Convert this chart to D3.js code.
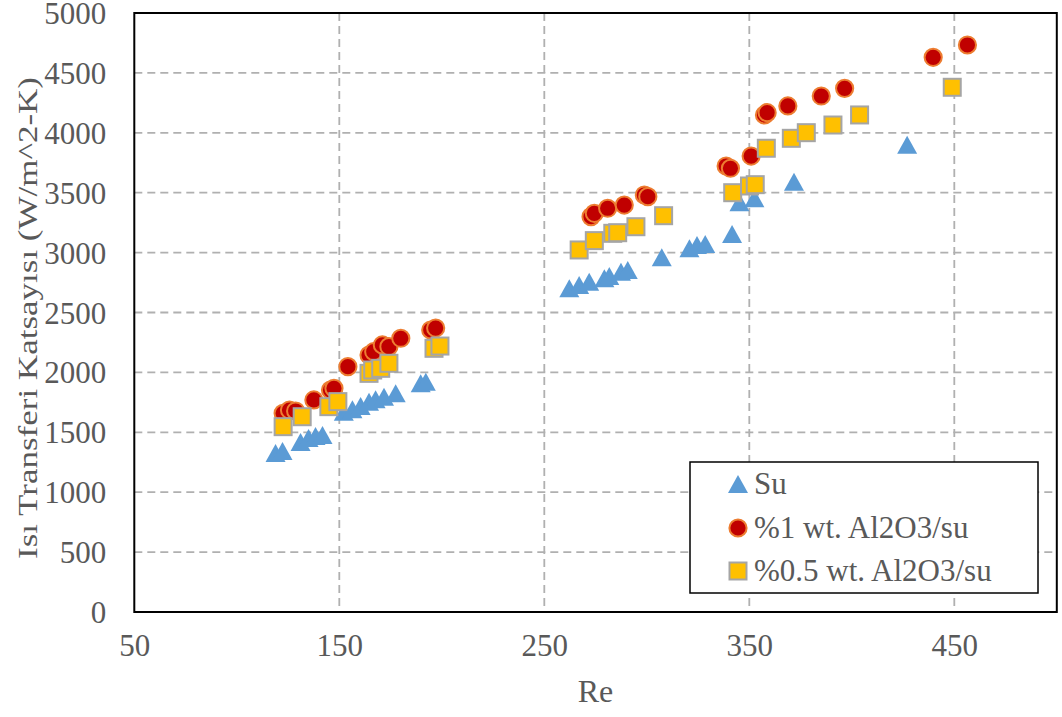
<!DOCTYPE html>
<html>
<head>
<meta charset="utf-8">
<script src="https://cdn.jsdelivr.net/npm/d3@7"></script>
<style>
  body { margin: 0; background: #fff; }
  svg { display: block; }
</style>
</head>
<body>
<svg id="chart" width="1062" height="717"></svg>
<script>
// Su (water)
const suRe = [118.9, 122.3, 131.1, 135, 138.4, 141.8, 152.2, 156.4, 160.4, 164.5, 167.7, 171.8, 177.5, 189.7, 192.2,
  262.2, 267, 271.9, 279.3, 281.7, 287.4, 290.7, 307.3, 320.8, 324.5, 328.5, 341.6, 345.2, 352.5, 371.8, 427];
const suH = [1327, 1344, 1419, 1452, 1469, 1477, 1672, 1692, 1720, 1755, 1775, 1797, 1825, 1909, 1922,
  2702, 2730, 2757, 2785, 2805, 2841, 2855, 2961, 3036, 3063, 3072, 3155, 3420, 3453, 3592, 3900];

// %1 wt. Al2O3/su
const w1Re = [122.6, 125.7, 128.7, 137.6, 145.7, 147.4, 154.2, 164.5, 166.8, 171, 174.2, 180, 194.6, 197,
  272.8, 274.4, 280.9, 289, 298.8, 300.5,
  338.7, 340.8, 350.9, 357.4, 358.7, 368.8, 385.1, 396.5, 439.7, 456.4];
const w1H = [1659, 1686, 1678, 1770, 1853, 1867, 2048, 2145, 2173, 2229, 2215, 2285, 2354, 2370,
  3300, 3328, 3370, 3397, 3481, 3467,
  3723, 3704, 3806, 4149, 4168, 4224, 4307, 4371, 4630, 4733];

// %0.5 wt. Al2O3/su
const w05Re = [122.6, 131.9, 144.9, 149.3, 164.5, 166.3, 170.2, 174.2, 196.2, 199.1,
  267, 274.4, 283.4, 285.8, 294.7, 308.2,
  341.9, 350.1, 352.9, 358.3, 370.5, 377.8, 390.8, 403.8, 449];
const w05H = [1547, 1630, 1714, 1756, 1992, 2020, 2034, 2076, 2201, 2220,
  3022, 3100, 3161, 3166, 3216, 3308,
  3500, 3556, 3567, 3871, 3954, 4001, 4065, 4149, 4380];

const xTicks = [50, 150, 250, 350, 450];
const yTicks = [0, 500, 1000, 1500, 2000, 2500, 3000, 3500, 4000, 4500, 5000];
const legendLabels = ["Su", "%1 wt. Al2O3/su", "%0.5 wt. Al2O3/su"];

const textColor = "#595959";
const font = "'Liberation Serif', 'Times New Roman', serif";

const svg = d3.select("#chart");
const pLeft = 134.3, pRight = 1056.8, pTop = 13, pBottom = 612;

const x = d3.scaleLinear().domain([50, 500]).range([pLeft, pRight]);
const y = d3.scaleLinear().domain([0, 5000]).range([pBottom, pTop]);

// gridlines
const grid = svg.append("g").attr("stroke", "#b0b0b0").attr("stroke-width", 1.8).attr("stroke-dasharray", "8,5");
grid.selectAll(".gy")
  .data(yTicks.filter((d) => d > 0 && d < 5000))
  .join("line")
  .attr("x1", pLeft).attr("x2", pRight)
  .attr("y1", (d) => y(d)).attr("y2", (d) => y(d));
grid.selectAll(".gx")
  .data(xTicks.filter((d) => d > 50))
  .join("line")
  .attr("x1", (d) => x(d)).attr("x2", (d) => x(d))
  .attr("y1", pTop).attr("y2", pBottom);

// axes (labels only)
const yAxis = svg.append("g")
  .attr("transform", `translate(${pLeft},0)`)
  .call(d3.axisLeft(y).tickValues(yTicks).tickFormat(d3.format("d")).tickSize(0).tickPadding(28));
const xAxis = svg.append("g")
  .attr("transform", `translate(0,${pBottom})`)
  .call(d3.axisBottom(x).tickValues(xTicks).tickFormat(d3.format("d")).tickSize(0).tickPadding(22));
[yAxis, xAxis].forEach((a) => {
  a.select(".domain").remove();
  a.selectAll("text")
    .attr("fill", textColor)
    .style("font-family", font)
    .style("font-size", "31px");
});
yAxis.selectAll("text").attr("dy", "0.34em");

// plot border
svg.append("rect")
  .attr("x", pLeft).attr("y", pTop)
  .attr("width", pRight - pLeft).attr("height", pBottom - pTop)
  .attr("fill", "none").attr("stroke", "#000").attr("stroke-width", 2);

// axis titles
svg.append("text")
  .attr("x", (pLeft + pRight) / 2).attr("y", 702)
  .attr("text-anchor", "middle")
  .attr("fill", textColor)
  .style("font-family", font).style("font-size", "32px")
  .text("Re");

svg.append("text")
  .attr("transform", "translate(37,318) rotate(-90)")
  .attr("text-anchor", "middle")
  .attr("fill", textColor)
  .attr("textLength", 482)
  .attr("lengthAdjust", "spacingAndGlyphs")
  .style("font-family", font).style("font-size", "27px")
  .text("Isı Transferi Katsayısı (W/m^2-K)");

// markers
const triPath = "M0,-9L10,9L-10,9Z";
const drawTri = (g, cx, cy) => g.append("path")
  .attr("d", triPath)
  .attr("transform", `translate(${cx},${cy})`)
  .attr("fill", "#5b9bd5");

const triG = svg.append("g");
suRe.forEach((r, i) => drawTri(triG, x(r), y(suH[i])));

svg.append("g")
  .selectAll("circle")
  .data(w1Re)
  .join("circle")
  .attr("cx", (d) => x(d))
  .attr("cy", (d, i) => y(w1H[i]))
  .attr("r", 8.6)
  .attr("fill", "#c00000")
  .attr("stroke", "#ed7d31")
  .attr("stroke-width", 2);

svg.append("g")
  .selectAll("rect")
  .data(w05Re)
  .join("rect")
  .attr("x", (d) => x(d) - 8.5)
  .attr("y", (d, i) => y(w05H[i]) - 8.5)
  .attr("width", 17).attr("height", 17)
  .attr("fill", "#ffc000")
  .attr("stroke", "#a5a5a5")
  .attr("stroke-width", 2);

// legend
const lg = svg.append("g");
lg.append("rect")
  .attr("x", 690).attr("y", 462)
  .attr("width", 348).attr("height", 131)
  .attr("fill", "#fff").attr("stroke", "#000").attr("stroke-width", 1.5);

const rowY = [484, 528, 571];
drawTri(lg, 738, rowY[0]);
lg.append("circle").attr("cx", 738).attr("cy", rowY[1]).attr("r", 8.6)
  .attr("fill", "#c00000").attr("stroke", "#ed7d31").attr("stroke-width", 2);
lg.append("rect").attr("x", 738 - 8.5).attr("y", rowY[2] - 8.5).attr("width", 17).attr("height", 17)
  .attr("fill", "#ffc000").attr("stroke", "#a5a5a5").attr("stroke-width", 2);

lg.selectAll(".lt")
  .data(legendLabels)
  .join("text")
  .attr("x", 754)
  .attr("y", (d, i) => rowY[i] + 10)
  .attr("fill", textColor)
  .style("font-family", font).style("font-size", "31px")
  .text((d) => d);
</script>
</body>
</html>
